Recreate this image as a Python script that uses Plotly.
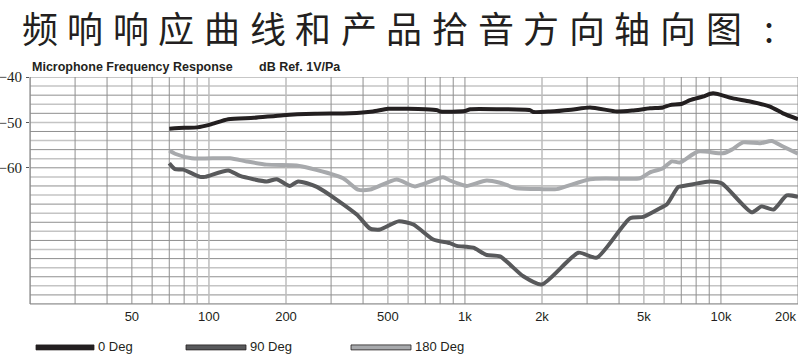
import numpy as np
import plotly.graph_objects as go

# ---------------- data ----------------
title_text = "频响响应曲线和产品拾音方向轴向图:"
subtitle_left = "Microphone Frequency Response"
subtitle_right = "dB Ref. 1V/Pa"

freq_0 = [70, 80, 90, 101, 119, 150, 195, 260, 356, 437, 500, 600, 700, 778, 800, 1000,
          1050, 1371, 1795, 1850, 2149, 2600, 3080, 3926, 4500, 5283, 5937, 6324, 7047,
          7570, 8500, 9311, 11140, 12990, 15550, 17470, 20000]
db_0 = [-51.4, -51.2, -51.1, -50.5, -49.3, -49.0, -48.4, -48.1, -48.0, -47.6, -47.0, -47.0,
        -47.1, -47.3, -47.6, -47.5, -47.1, -47.1, -47.3, -47.7, -47.6, -47.2, -46.7, -47.6,
        -47.4, -46.9, -46.7, -46.2, -45.9, -45.1, -44.3, -43.6, -44.7, -45.4, -46.5, -48.0,
        -49.3]

freq_90 = [70, 73.7, 79.4, 92.3, 96.5, 119, 132.3, 168.2, 184, 207, 223, 264, 378, 426, 466,
           549, 629, 752, 874, 929, 1016, 1078, 1216, 1371, 1690, 1995, 2773, 3273, 4416,
           4977, 5781, 6140, 6814, 7129, 9057, 10070, 13180, 14420, 16030, 18070, 20000]
db_90 = [-59.0, -60.3, -60.4, -62.0, -62.0, -60.6, -61.8, -63.0, -62.5, -64.0, -63.0, -64.2,
         -70.3, -73.4, -73.6, -71.8, -72.5, -75.8, -76.6, -77.2, -77.4, -77.6, -79.2, -79.5,
         -83.9, -85.7, -78.7, -79.8, -71.1, -70.8, -68.9, -68.1, -64.2, -64.0, -63.0, -63.4,
         -69.8, -68.5, -69.2, -66.1, -66.4]

freq_180 = [70, 73.7, 85.6, 120.8, 140.4, 168.2, 220, 248, 334, 382, 426, 541, 638, 821, 874,
            983, 1016, 1216, 1371, 1592, 2018, 2281, 3080, 4141, 4827, 5283, 5937, 6427, 6924,
            8133, 10190, 11020, 12190, 14220, 15790, 17470, 20000]
db_180 = [-56.2, -56.9, -57.9, -57.9, -58.6, -59.3, -59.5, -60.1, -62.3, -64.8, -64.8, -62.6,
          -64.1, -62.1, -62.8, -63.8, -64.0, -62.8, -63.3, -64.5, -64.7, -64.7, -62.5, -62.4,
          -62.3, -61.0, -60.1, -58.6, -58.8, -56.4, -56.8, -56.0, -54.4, -54.6, -54.1, -55.3,
          -56.9]

series_names = ["0 Deg", "90 Deg", "180 Deg"]
series_colors = ["#231f20", "#58595b", "#a7a9ac"]

x_tick_vals = [50, 100, 200, 500, 1000, 2000, 5000, 10000]
x_tick_text = ["50", "100", "200", "500", "1k", "2k", "5k", "10k"]
x_last_val, x_last_text = 20000, "20k"
y_tick_vals = [-40, -50, -60]
y_tick_text = ["\u221240", "\u221250", "\u221260"]

# ---------------- layout helpers ----------------
W, H = 800, 354
L, R, T, B = 30, 2, 77, 49.5
PW, PH = W - L - R, H - T - B


def px(xp):
    return (xp - L) / PW


def py(yp):
    return (H - B - yp) / PH


fig = go.Figure()
for f, d, name, col in zip([freq_0, freq_90, freq_180], [db_0, db_90, db_180],
                           series_names, series_colors):
    fig.add_trace(go.Scatter(x=f, y=d, mode="lines", name=name, showlegend=False,
                             line=dict(color=col, width=4, shape="spline", smoothing=0.6),
                             hoverinfo="skip"))

shapes = []
# horizontal grid every 2 dB
for i, v in enumerate(range(-40, -91, -2)):
    dark = (i % 2 == 0)
    shapes.append(dict(type="line", xref="paper", yref="y", x0=0, x1=1, y0=v, y1=v,
                       line=dict(color="#8f8f8f" if dark else "#c4c4c4",
                                 width=1 if dark else 1.5), layer="below"))
# vertical log grid
vlines = []
for dec in [10, 100, 1000, 10000]:
    for m in range(1, 10):
        fv = dec * m
        if 20 <= fv <= 20000:
            vlines.append(fv)
for j, fv in enumerate(vlines):
    light = fv in (90, 100, 200, 500, 600, 5000, 6000, 2000)
    shapes.append(dict(type="line", xref="x", yref="paper", x0=fv, x1=fv, y0=0, y1=1,
                       line=dict(color="#bdbdbd" if light else "#8f8f8f",
                                 width=1.5 if light else 1), layer="below"))
# frame
shapes.append(dict(type="line", xref="paper", yref="paper", x0=0, x1=0, y0=0, y1=1,
                   line=dict(color="#8a8a8a", width=1.2)))
shapes.append(dict(type="line", xref="paper", yref="paper", x0=0, x1=1, y0=0, y1=0,
                   line=dict(color="#8a8a8a", width=1.2)))

# legend (manual)
leg = [(36, 94, 96), (186, 246, 248), (351, 411, 413)]
annotations = []
for (x0, x1, xt), name, col in zip(leg, series_names, series_colors):
    shapes.append(dict(type="rect", xref="paper", yref="paper", x0=px(x0), x1=px(x1),
                       y0=py(350.5), y1=py(345.5), fillcolor=col,
                       line=dict(color="#231f20" if name != "0 Deg" else col, width=0.8)))
    annotations.append(dict(text=name, xref="paper", yref="paper", x=px(xt), y=py(347.5),
                            xanchor="left", yanchor="middle", showarrow=False,
                            font=dict(family="Liberation Sans Narrow, Arial Narrow, sans-serif",
                                      size=13, color="#231f20")))

# title characters spaced out
pitch = 45.6
for k, ch in enumerate(title_text):
    annotations.append(dict(text=ch, xref="paper", yref="paper", x=px(39.5 + k * pitch),
                            y=py(0.0), xanchor="center", yanchor="top", showarrow=False,
                            borderpad=0,
                            font=dict(family="Noto Sans CJK SC", size=36, color="#231f20")))

annotations.append(dict(text=f"<b>{subtitle_left}</b>", xref="paper", yref="paper", x=px(30),
                        y=py(67), xanchor="left", yanchor="middle", showarrow=False,
                        font=dict(family="Liberation Sans, Arial", size=12.5, color="#231f20")))
annotations.append(dict(text=f"<b>{subtitle_right}</b>", xref="paper", yref="paper", x=px(257),
                        y=py(67), xanchor="left", yanchor="middle", showarrow=False,
                        font=dict(family="Liberation Sans, Arial", size=12.5, color="#231f20")))
annotations.append(dict(text=x_last_text, xref="x", yref="paper", x=np.log10(x_last_val),
                        y=py(317), xanchor="right", yanchor="middle", showarrow=False,
                        font=dict(family="Liberation Sans Narrow, Arial Narrow, sans-serif",
                                  size=13, color="#231f20")))

fig.update_layout(
    width=W, height=H, margin=dict(l=L, r=R, t=T, b=B, pad=0, autoexpand=False),
    paper_bgcolor="white", plot_bgcolor="white",
    shapes=shapes, annotations=annotations, showlegend=False,
    xaxis=dict(type="log", range=[np.log10(20), np.log10(20000)], showgrid=False,
               zeroline=False, showline=False, tickvals=x_tick_vals, ticktext=x_tick_text,
               ticks="", ticklabelstandoff=3, automargin=False,
               tickfont=dict(family="Liberation Sans Narrow, Arial Narrow, sans-serif",
                             size=13, color="#231f20")),
    yaxis=dict(range=[-90, -40], showgrid=False, zeroline=False, showline=False,
               tickvals=y_tick_vals, ticktext=y_tick_text, ticks="outside", ticklen=3,
               automargin=False, ticklabelstandoff=1,
               tickcolor="#555", tickfont=dict(family="Liberation Serif, DejaVu Serif, serif",
                                               size=15, color="#231f20")),
)

fig.write_html("out.html")
